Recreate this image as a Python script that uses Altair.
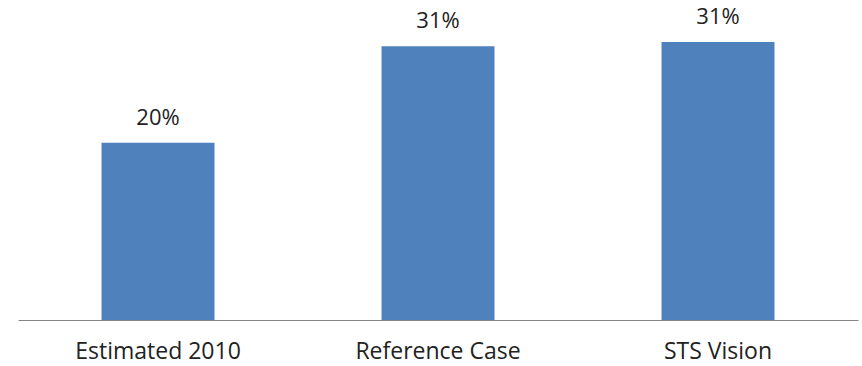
import altair as alt
import pandas as pd

# Share of the total under each scenario
scenarios = ["Estimated 2010", "Reference Case", "STS Vision"]
shares = [0.200, 0.309, 0.314]

df = pd.DataFrame({"scenario": scenarios, "share": shares})

FONT = "Open Sans"
TEXT_COLOR = "#222222"

x_enc = alt.X(
    "scenario:N",
    sort=scenarios,
    scale=alt.Scale(paddingInner=0, paddingOuter=0),
    axis=alt.Axis(
        title=None,
        labelAngle=0,
        ticks=False,
        domainColor="#868686",
        domainWidth=1,
        labelPadding=20,
        labelFontSize=23,
        labelFont=FONT,
        labelColor=TEXT_COLOR,
    ),
)
y_enc = alt.Y(
    "share:Q",
    scale=alt.Scale(domain=[0, 0.35], nice=False),
    axis=None,
)

bars = alt.Chart(df).mark_bar(size=113, color="#4F81BD").encode(x=x_enc, y=y_enc)

labels = alt.Chart(df).mark_text(
    dy=-25, fontSize=22, font=FONT, color=TEXT_COLOR
).encode(
    x=alt.X("scenario:N", sort=scenarios),
    y=alt.Y("share:Q"),
    text=alt.Text("share:Q", format=".0%"),
)

chart = (
    alt.layer(bars, labels)
    .properties(
        width=840,
        height=310,
        autosize=alt.AutoSizeParams(type="none"),
        padding={"left": 18, "top": 10, "right": 4, "bottom": 46},
        background="white",
    )
    .configure_view(stroke=None)
)

chart.save("out.html", embed_options={"renderer": "svg", "actions": False})
